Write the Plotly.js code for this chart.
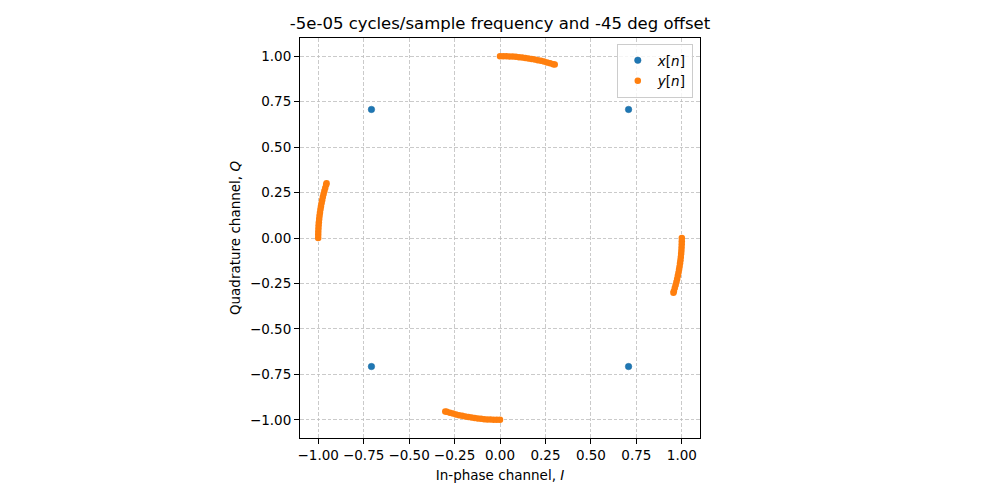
<!DOCTYPE html>
<html>
<head>
<meta charset="utf-8">
<script src="https://cdn.plot.ly/plotly-3.0.1.min.js"></script>
<style>html,body{margin:0;padding:0;background:#fff;}#plot{width:1000px;height:500px;}</style>
</head>
<body>
<div id="plot"></div>
<script>
// x[n]: ideal QPSK constellation points
const xI = [0.7071, -0.7071, -0.7071, 0.7071];
const xQ = [0.7071, 0.7071, -0.7071, -0.7071];

// y[n]: points read along the four arcs
const arcRightI = [1.000, 0.9998, 0.9994, 0.9986, 0.9976, 0.9962, 0.9945, 0.9925, 0.9903, 0.9877, 0.9848, 0.9816, 0.9781, 0.9744, 0.9703, 0.9659, 0.9613, 0.9563, 0.954];
const arcRightQ = [0.000, -0.0175, -0.0349, -0.0523, -0.0698, -0.0872, -0.1045, -0.1219, -0.1392, -0.1564, -0.1736, -0.1908, -0.2079, -0.2250, -0.2419, -0.2588, -0.2756, -0.2924, -0.301];

const arcTopI = [0.000, 0.0175, 0.0349, 0.0523, 0.0698, 0.0872, 0.1045, 0.1219, 0.1392, 0.1564, 0.1736, 0.1908, 0.2079, 0.2250, 0.2419, 0.2588, 0.2756, 0.2924, 0.301];
const arcTopQ = [1.000, 0.9998, 0.9994, 0.9986, 0.9976, 0.9962, 0.9945, 0.9925, 0.9903, 0.9877, 0.9848, 0.9816, 0.9781, 0.9744, 0.9703, 0.9659, 0.9613, 0.9563, 0.954];

const arcLeftI = [-1.000, -0.9998, -0.9994, -0.9986, -0.9976, -0.9962, -0.9945, -0.9925, -0.9903, -0.9877, -0.9848, -0.9816, -0.9781, -0.9744, -0.9703, -0.9659, -0.9613, -0.9563, -0.954];
const arcLeftQ = [0.000, 0.0175, 0.0349, 0.0523, 0.0698, 0.0872, 0.1045, 0.1219, 0.1392, 0.1564, 0.1736, 0.1908, 0.2079, 0.2250, 0.2419, 0.2588, 0.2756, 0.2924, 0.301];

const arcBottomI = [0.000, -0.0175, -0.0349, -0.0523, -0.0698, -0.0872, -0.1045, -0.1219, -0.1392, -0.1564, -0.1736, -0.1908, -0.2079, -0.2250, -0.2419, -0.2588, -0.2756, -0.2924, -0.301];
const arcBottomQ = [-1.000, -0.9998, -0.9994, -0.9986, -0.9976, -0.9962, -0.9945, -0.9925, -0.9903, -0.9877, -0.9848, -0.9816, -0.9781, -0.9744, -0.9703, -0.9659, -0.9613, -0.9563, -0.954];

const tickVals = [-1.00, -0.75, -0.50, -0.25, 0.00, 0.25, 0.50, 0.75, 1.00];
const titleText = "-5e-05 cycles/sample frequency and -45 deg offset";

const yI = [].concat(arcRightI, arcTopI, arcLeftI, arcBottomI);
const yQ = [].concat(arcRightQ, arcTopQ, arcLeftQ, arcBottomQ);

const font = "DejaVu Sans, sans-serif";

const traces = [
  {x: xI, y: xQ, mode: "markers", type: "scatter", name: "<i>x</i>[<i>n</i>]",
   marker: {color: "#1f77b4", size: 6.5, line: {color: "#1a6aa0", width: 0.5}}},
  {x: yI, y: yQ, mode: "markers", type: "scatter", name: "<i>y</i>[<i>n</i>]",
   marker: {color: "#ff7f0e", size: 6.5}}
];

const axisCommon = {
  range: [-1.1, 1.1],
  tickvals: tickVals,
  tickformat: ".2f",
  ticks: "outside",
  ticklen: 5,
  tickcolor: "#000",
  showline: true,
  linecolor: "#000",
  linewidth: 1,
  mirror: true,
  showgrid: true,
  gridcolor: "#bdbdbd",
  griddash: "3.5px,2px",
  gridwidth: 0.8,
  zeroline: false,
  tickfont: {family: font, size: 13.5, color: "#000"}
};

const layout = {
  width: 1000, height: 500,
  margin: {l: 300, r: 300, t: 38, b: 62},
  paper_bgcolor: "#fff", plot_bgcolor: "#fff",
  font: {family: font, color: "#000"},
  title: {text: titleText, font: {family: font, size: 16.5, color: "#000"},
          x: 0.5, xanchor: "center", y: 0.954, yanchor: "middle", yref: "container"},
  xaxis: Object.assign({}, axisCommon, {
    title: {text: "In-phase channel, <i>I</i>", font: {family: font, size: 13.5}, standoff: 8}
  }),
  yaxis: Object.assign({}, axisCommon, {
    title: {text: "Quadrature channel, <i>Q</i>", font: {family: font, size: 13.5}, standoff: 6}
  }),
  showlegend: true,
  legend: {x: 0.982, y: 0.985, xanchor: "right", yanchor: "top",
           bgcolor: "rgba(255,255,255,0.8)", bordercolor: "#cccccc", borderwidth: 1,
           font: {family: font, size: 13.5}, itemwidth: 30, tracegroupgap: 4}
};

Plotly.newPlot("plot", traces, layout, {staticPlot: true});
</script>
</body>
</html>
